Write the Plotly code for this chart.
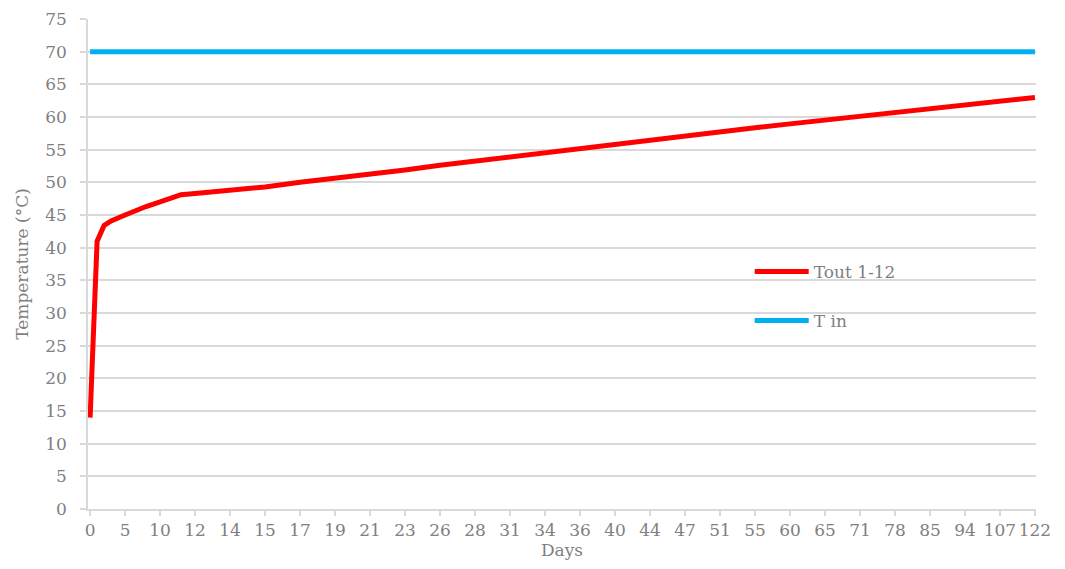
import plotly.graph_objects as go

# Day labels shown on the x axis (one every 5 samples)
tick_days = ["0", "5", "10", "12", "14", "15", "17", "19", "21", "23", "26", "28", "31",
             "34", "36", "40", "44", "47", "51", "55", "60", "65", "71", "78", "85", "94",
             "107", "122"]

# Sample number (measurement index) and Tout 1-12 readings (°C)
tout_sample = [0, 1, 2, 3, 5, 7, 8, 10, 13, 15, 20, 25, 30, 35, 40, 45, 50, 55, 60, 65,
               70, 75, 80, 85, 90, 95, 100, 105, 110, 115, 120, 125, 130, 135]
tout = [14.0, 41.0, 43.4, 44.1, 45.0, 46.0, 46.3, 47.0, 48.1, 48.3, 48.75, 49.3, 50.0,
        50.6, 51.3, 51.9, 52.6, 53.25, 53.9, 54.55, 55.2, 55.9, 56.5, 57.1, 57.75, 58.35,
        58.95, 59.55, 60.1, 60.7, 61.25, 61.8, 62.4, 63.0]

# T in readings
tin_sample = [0, 135]
tin = [70, 70]

tick_step = 5
tickvals = [i * tick_step for i in range(len(tick_days))]

FONT = "DejaVu Serif"
FS = 17
GRAY = "#7f7f7f"
GRID = "#d9d9d9"

fig = go.Figure()
fig.add_trace(go.Scatter(x=tout_sample, y=tout, mode="lines", name="Tout 1-12",
                         line=dict(color="#ff0000", width=5), legendgroup="a"))
fig.add_trace(go.Scatter(x=tin_sample, y=tin, mode="lines", name="T in",
                         line=dict(color="#00b0f0", width=5), legendgroup="b"))

fig.update_layout(
    width=1057, height=561,
    margin=dict(l=80, r=29, t=11, b=60),
    paper_bgcolor="white", plot_bgcolor="white",
    font=dict(family=FONT, size=FS, color=GRAY),
    showlegend=True,
    legend=dict(x=0.698, y=0.434, xanchor="left", yanchor="middle",
                traceorder="grouped", tracegroupgap=24, itemwidth=54,
                bgcolor="rgba(0,0,0,0)", font=dict(family=FONT, size=FS, color=GRAY)),
    xaxis=dict(
        range=[-0.3, 135.15], tickmode="array", tickvals=tickvals, ticktext=tick_days,
        showgrid=False, zeroline=False, showline=True, linecolor=GRID, linewidth=1.5,
        ticks="outside", ticklen=5, tickcolor=GRID, tickwidth=1.5, automargin=False,
        tickfont=dict(family=FONT, size=FS, color=GRAY),
        title=dict(text="Days", standoff=5, font=dict(family=FONT, size=FS, color=GRAY)),
    ),
    yaxis=dict(
        range=[0, 75], dtick=5, tick0=0, automargin=False,
        showgrid=True, gridcolor=GRID, gridwidth=1.5, zeroline=False,
        showline=True, linecolor=GRID, linewidth=1.5,
        ticks="outside", ticklen=6, tickcolor=GRID, tickwidth=1.5, ticklabelstandoff=10,
        tickfont=dict(family=FONT, size=FS, color=GRAY),
        title=dict(text="Temperature (°C)", standoff=12, font=dict(family=FONT, size=FS, color=GRAY)),
    ),
)

fig.write_html("out.html")
